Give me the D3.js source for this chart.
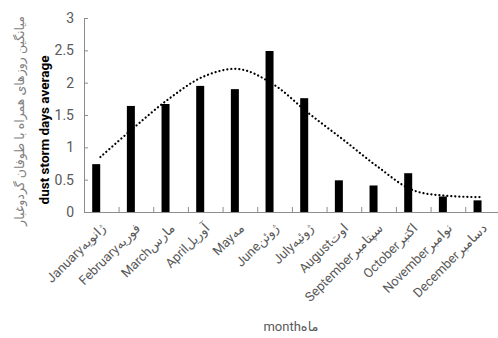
<!DOCTYPE html>
<html>
<head>
<meta charset="utf-8">
<script src="https://cdn.jsdelivr.net/npm/d3@7"></script>
<style>
  body { margin: 0; background: #fff; }
  text { font-family: Roboto, "Liberation Sans", "DejaVu Sans", sans-serif; }
</style>
</head>
<body>
<div id="chart"></div>
<script>
var months = ["January","February","March","April","May","June","July","August","September","October","November","December"];
var monthsFa = ["ژانویه","فوریه","مارس","آوریل","مه","ژوئن","ژوئیه","اوت","سپتامبر","اکتبر","نوامبر","دسامبر"];
var dustDays = [0.74, 1.64, 1.67, 1.95, 1.90, 2.49, 1.76, 0.49, 0.41, 0.60, 0.24, 0.18];
var trend = [0.85, 1.32, 1.76, 2.10, 2.21, 1.97, 1.53, 1.12, 0.70, 0.34, 0.25, 0.23];
var yTicks = [0, 0.5, 1, 1.5, 2, 2.5, 3];

var width = 498, height = 338;
var svg = d3.select("#chart").append("svg").attr("width", width).attr("height", height);

var x = d3.scaleBand().domain(months).range([84.4, 500.4]);
var y = d3.scaleLinear().domain([0, 3]).range([212, 18]);
var gray = "#8c8c8c", textGray = "#595959";

// y axis
var yAxis = svg.append("g").attr("transform", "translate(84,0)")
  .call(d3.axisRight(y).tickValues(yTicks).tickSize(4).tickFormat(d3.format("")));
yAxis.select(".domain").attr("stroke", gray);
yAxis.selectAll(".tick line").attr("stroke", gray);
yAxis.selectAll(".tick text").attr("x", -10).attr("text-anchor", "end")
  .attr("fill", textGray).style("font-size", "14px");

// bars
svg.selectAll("rect.bar").data(dustDays).enter().append("rect")
  .attr("class", "bar")
  .attr("x", function(d, i){ return x(months[i]) + 7.8; })
  .attr("width", 8)
  .attr("y", function(d){ return y(d); })
  .attr("height", function(d){ return y(0) - y(d); })
  .attr("fill", "#000");

// x axis
var xAxis = svg.append("g").attr("transform", "translate(0,212)")
  .call(d3.axisBottom(x).tickSize(0).tickFormat(""));
xAxis.select(".domain").attr("stroke", gray).attr("stroke-width", 1.2);
// ticks at category boundaries, pointing up
svg.selectAll("line.xtick").data(months.slice(1)).enter().append("line")
  .attr("class", "xtick")
  .attr("x1", function(d){ return x(d); }).attr("x2", function(d){ return x(d); })
  .attr("y1", 212).attr("y2", 207)
  .attr("stroke", gray);

// trend line
var line = d3.line()
  .x(function(d, i){ return x(months[i]) + 16; })
  .y(function(d){ return y(d); })
  .curve(d3.curveCatmullRom);
svg.append("path").datum(trend)
  .attr("d", line)
  .attr("fill", "none")
  .attr("stroke", "#000")
  .attr("stroke-width", 2.2)
  .attr("stroke-linecap", "round")
  .attr("stroke-dasharray", "0.1 3.9");

// month labels
svg.selectAll("text.mlab").data(months).enter().append("text")
  .attr("class", "mlab")
  .attr("transform", function(d){ return "translate(" + (x(d) + 22) + ",229) rotate(-45)"; })
  .attr("text-anchor", "end")
  .attr("fill", textGray)
  .style("font-size", "13px")
  .text(function(d, i){ return d + monthsFa[i]; });

// axis titles
svg.append("text")
  .attr("transform", "translate(49,130) rotate(-90)")
  .attr("text-anchor", "middle")
  .attr("fill", "#000")
  .style("font-size", "13.5px").style("font-weight", "bold")
  .text("dust storm days average");
svg.append("text")
  .attr("transform", "translate(24,121) rotate(-90)")
  .attr("text-anchor", "middle")
  .attr("fill", "#7f7f7f")
  .style("font-size", "12.5px")
  .text("میانگین روزهای همراه با طوفان گردوغبار");
svg.append("text")
  .attr("x", 291).attr("y", 331)
  .attr("text-anchor", "middle")
  .attr("fill", textGray)
  .style("font-size", "13px")
  .text("monthماه");
</script>
</body>
</html>
